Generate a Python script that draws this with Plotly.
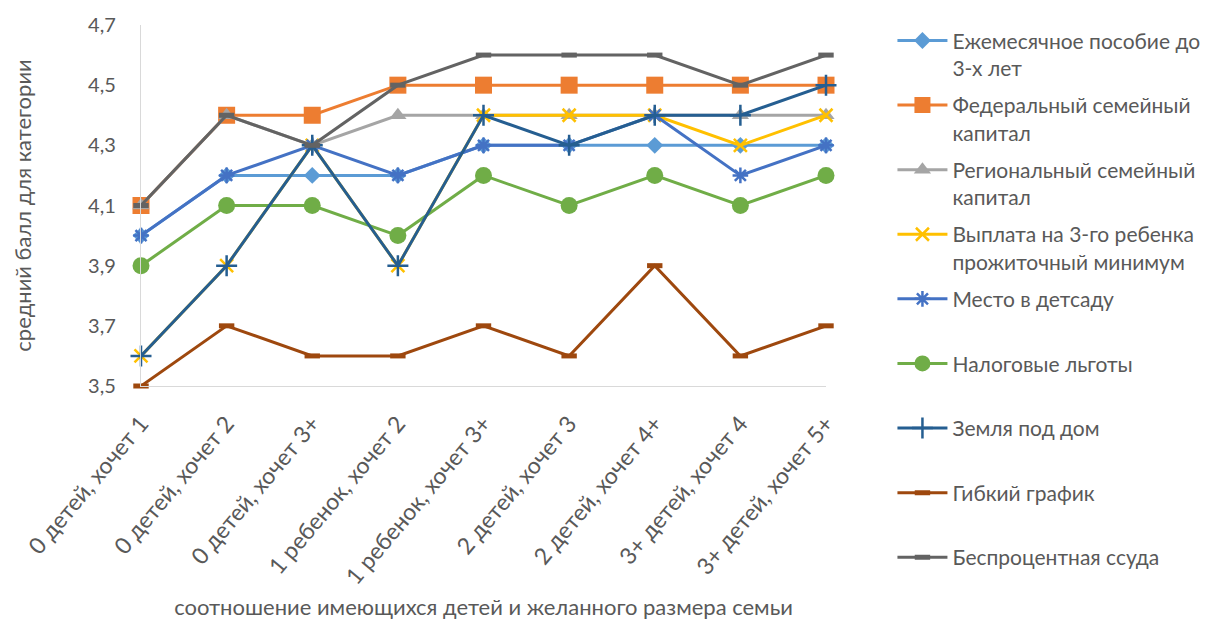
import plotly.graph_objects as go

categories = ["0 детей, хочет 1", "0 детей, хочет 2", "0 детей, хочет 3+",
              "1 ребенок, хочет 2", "1 ребенок, хочет 3+", "2 детей, хочет 3",
              "2 детей, хочет 4+", "3+ детей, хочет 4", "3+ детей, хочет 5+"]

posobie = [4.0, 4.2, 4.2, 4.2, 4.3, 4.3, 4.3, 4.3, 4.3]
fed_kapital = [4.1, 4.4, 4.4, 4.5, 4.5, 4.5, 4.5, 4.5, 4.5]
reg_kapital = [4.1, 4.4, 4.3, 4.4, 4.4, 4.4, 4.4, 4.4, 4.4]
vyplata = [3.6, 3.9, 4.3, 3.9, 4.4, 4.4, 4.4, 4.3, 4.4]
detsad = [4.0, 4.2, 4.3, 4.2, 4.3, 4.3, 4.4, 4.2, 4.3]
nalog = [3.9, 4.1, 4.1, 4.0, 4.2, 4.1, 4.2, 4.1, 4.2]
zemlya = [3.6, 3.9, 4.3, 3.9, 4.4, 4.3, 4.4, 4.4, 4.5]
grafik = [3.5, 3.7, 3.6, 3.6, 3.7, 3.6, 3.9, 3.6, 3.7]
ssuda = [4.1, 4.4, 4.3, 4.5, 4.6, 4.6, 4.6, 4.5, 4.6]

y_ticks = [3.5, 3.7, 3.9, 4.1, 4.3, 4.5, 4.7]

series = [
    ("Ежемесячное пособие до<br>3-х лет", posobie, "#5B9BD5", "diamond", 13, 0),
    ("Федеральный семейный<br>капитал", fed_kapital, "#ED7D31", "square", 17, 0),
    ("Региональный семейный<br>капитал", reg_kapital, "#A5A5A5", "triangle-up", 15, 0),
    ("Выплата на 3-го ребенка<br>прожиточный минимум", vyplata, "#FFC000", "x-thin-open", 13, 2.5),
    ("Место в детсаду<br> ", detsad, "#4472C4", "asterisk-open", 13, 2.5),
    ("Налоговые льготы<br> ", nalog, "#70AD47", "circle", 17, 0),
    ("Земля под дом<br> ", zemlya, "#255E91", "cross-thin-open", 15, 2.5),
    ("Гибкий график<br> ", grafik, "#9E480E", "line-ew-open", 11, 5),
    ("Беспроцентная ссуда<br> ", ssuda, "#636363", "line-ew-open", 11, 5),
]

fig = go.Figure()
for i, (name, vals, color, sym, size, lw) in enumerate(series):
    marker = dict(symbol=sym, size=size, color=color)
    if lw:
        marker["line"] = dict(color=color, width=lw)
    fig.add_trace(go.Scatter(
        x=list(range(len(categories))), y=vals, name=name,
        mode="lines+markers", line=dict(color=color, width=3),
        marker=marker, cliponaxis=False, legendgroup=f"g{i}",
    ))

font_family = "Lato, 'Open Sans', sans-serif"
text_color = "#595959"

fig.update_layout(
    width=1211, height=612,
    margin=dict(l=133, r=393, t=17, b=234, autoexpand=False),
    paper_bgcolor="white", plot_bgcolor="white",
    separators=", ",
    font=dict(family=font_family, color=text_color, size=20),
    showlegend=True,
    legend=dict(x=1.097, y=1.013, xanchor="left", yanchor="top",
                font=dict(size=21, color=text_color), valign="top",
                tracegroupgap=7, itemwidth=50, maxheight=1000,
                bgcolor="rgba(0,0,0,0)"),
    xaxis=dict(
        tickmode="array", tickvals=list(range(len(categories))), ticktext=categories,
        range=[0, 8], tickangle=-50, showgrid=False, zeroline=False,
        showline=True, linecolor="#D9D9D9", linewidth=1.3,
        ticks="", ticklabelstandoff=14, tickfont=dict(size=23, color=text_color),
        title=dict(text="соотношение имеющихся детей и желанного размера семьи",
                   font=dict(size=22, color=text_color), standoff=16),
    ),
    yaxis=dict(
        range=[3.5, 4.7], tickvals=y_ticks, tickformat=".1f",
        showgrid=False, zeroline=False, showline=True, linecolor="#D9D9D9", linewidth=1.3,
        ticks="", ticklabelstandoff=20, tickfont=dict(size=20, color=text_color),
        title=dict(text="средний балл для категории",
                   font=dict(size=22, color=text_color), standoff=50),
    ),
)

fig.write_html("out.html")
